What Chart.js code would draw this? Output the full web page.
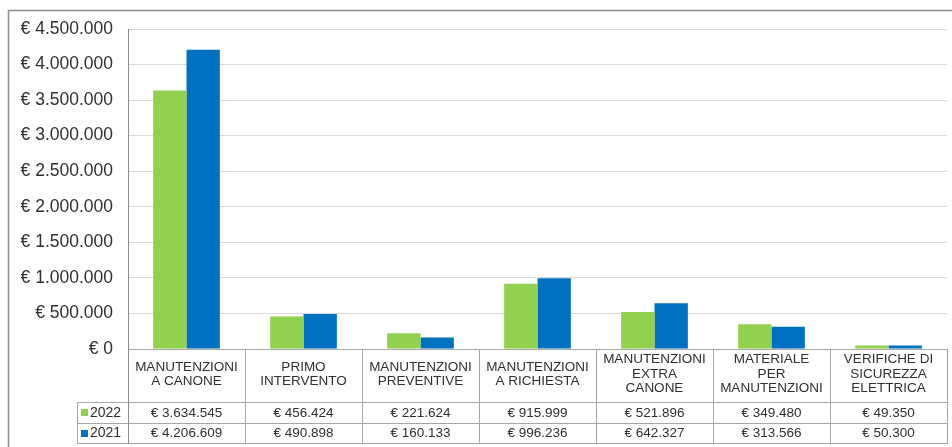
<!DOCTYPE html>
<html>
<head>
<meta charset="utf-8">
<script src="https://cdn.jsdelivr.net/npm/chart.js@4"></script>
<style>
html,body{margin:0;padding:0;background:#fff;}
#wrap{position:relative;width:952px;height:447px;}
</style>
</head>
<body>
<div id="wrap"><canvas id="c" width="952" height="447"></canvas></div>
<script>
const categories = [
  ['MANUTENZIONI', 'A CANONE'],
  ['PRIMO', 'INTERVENTO'],
  ['MANUTENZIONI', 'PREVENTIVE'],
  ['MANUTENZIONI', 'A RICHIESTA'],
  ['MANUTENZIONI', 'EXTRA', 'CANONE'],
  ['MATERIALE', 'PER', 'MANUTENZIONI'],
  ['VERIFICHE DI', 'SICUREZZA', 'ELETTRICA']
];
const seriesNames = ['2022', '2021'];
const values2022 = [3634545, 456424, 221624, 915999, 521896, 349480, 49350];
const values2021 = [4206609, 490898, 160133, 996236, 642327, 313566, 50300];
const yMax = 4500000;
const yStep = 500000;

const GREEN = '#92D050';
const BLUE = '#0070C0';
const FONT = "'Liberation Sans', Arial, sans-serif";
const TEXT = '#303030';
const LINE = '#a6a6a6';

function euro(v) {
  const s = Math.round(v).toString().replace(/\B(?=(\d{3})+(?!\d))/g, '.');
  return '€ ' + s;
}

const tablePlugin = {
  id: 'dataTable',
  beforeDraw(chart) {
    const ctx = chart.ctx;
    ctx.save();
    ctx.fillStyle = '#fff';
    ctx.fillRect(0, 0, chart.width, chart.height);
    ctx.strokeStyle = '#8c8c8c';
    ctx.lineWidth = 1.5;
    ctx.strokeRect(8.5, 10.5, chart.width + 20, chart.height + 20);
    ctx.restore();
  },
  afterDraw(chart) {
    const ctx = chart.ctx;
    const xs = chart.scales.x;
    const area = chart.chartArea;
    const n = categories.length;
    const half = (xs.getPixelForValue(1) - xs.getPixelForValue(0)) / 2;
    const top = area.bottom;
    const r1 = top + 53, r2 = top + 74, r3 = top + 94;
    const legLeft = 77;
    ctx.save();
    ctx.strokeStyle = LINE;
    ctx.lineWidth = 1;
    const h = (y, x0, x1) => { ctx.beginPath(); ctx.moveTo(x0, Math.round(y) + 0.5); ctx.lineTo(x1, Math.round(y) + 0.5); ctx.stroke(); };
    const v = (x, y0, y1) => { ctx.beginPath(); ctx.moveTo(Math.round(x) + 0.5, y0); ctx.lineTo(Math.round(x) + 0.5, y1); ctx.stroke(); };
    h(top, area.left, area.right);
    h(r1, legLeft, area.right);
    h(r2, legLeft, area.right);
    h(r3, legLeft, area.right);
    for (let i = 0; i <= n; i++) {
      const x = i < n ? xs.getPixelForValue(i) - half : xs.getPixelForValue(n - 1) + half;
      v(x, top, r3 + 1);
    }
    v(legLeft, r1, r3 + 1);
    ctx.strokeStyle = '#8c8c8c';
    v(area.left, area.top, r3 + 1);

    ctx.fillStyle = TEXT;
    ctx.textAlign = 'center';
    ctx.textBaseline = 'middle';
    ctx.font = '13.5px ' + FONT;
    const lh = 14.3;
    const mid = (top + r1) / 2 - 1.5;
    categories.forEach((lines, i) => {
      const cx = xs.getPixelForValue(i);
      const y0 = mid - (lines.length - 1) * lh / 2;
      lines.forEach((t, j) => ctx.fillText(t, cx, y0 + j * lh));
    });
    const rows = [[values2022, GREEN, (r1 + r2) / 2 + 0.5], [values2021, BLUE, (r2 + r3) / 2 + 0.5]];
    rows.forEach(([vals, col, y], k) => {
      ctx.fillStyle = TEXT;
      ctx.textAlign = 'center';
      ctx.font = '13.5px ' + FONT;
      vals.forEach((val, i) => ctx.fillText(euro(val), xs.getPixelForValue(i), y));
      ctx.fillStyle = col;
      ctx.fillRect(81, Math.round(y) - 4, 7, 7);
      ctx.fillStyle = TEXT;
      ctx.textAlign = 'left';
      ctx.font = '14px ' + FONT;
      ctx.fillText(seriesNames[k], 90, y);
    });
    ctx.restore();
  }
};

new Chart(document.getElementById('c'), {
  type: 'bar',
  data: {
    labels: categories,
    datasets: [
      { label: seriesNames[0], data: values2022, backgroundColor: GREEN, borderWidth: 0 },
      { label: seriesNames[1], data: values2021, backgroundColor: BLUE, borderWidth: 0 }
    ]
  },
  options: {
    responsive: false,
    animation: false,
    devicePixelRatio: 1,
    barPercentage: 1.0,
    categoryPercentage: 0.57,
    layout: { padding: { left: 0, right: 5, top: 29, bottom: 98 } },
    plugins: { legend: { display: false }, tooltip: { enabled: false } },
    scales: {
      x: { display: false },
      y: {
        min: 0,
        max: yMax,
        afterFit(scale) { scale.width = 128; },
        ticks: {
          stepSize: yStep,
          padding: 15,
          color: TEXT,
          font: { family: FONT, size: 17.5 },
          callback: (val) => euro(val)
        },
        grid: { color: '#d9d9d9', lineWidth: 1, drawTicks: false },
        border: { display: true, color: '#8c8c8c', width: 1 }
      }
    }
  },
  plugins: [tablePlugin]
});
</script>
</body>
</html>
